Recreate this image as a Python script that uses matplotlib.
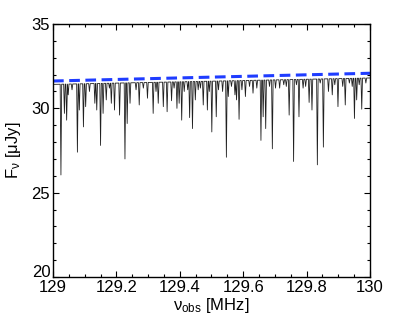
import numpy as np
import matplotlib
matplotlib.use("Agg")
import matplotlib.pyplot as plt
from matplotlib.ticker import MultipleLocator

plt.rcParams['font.family'] = ['Liberation Sans', 'DejaVu Sans']

# continuum (blue dashed) and spectrum baseline, end points
cont_freq = [129.0, 130.0]
cont_flux = [31.62, 32.08]
base_flux = [31.42, 31.80]

# absorption dips: centre frequency [MHz], minimum flux [uJy]
dip_freq = [129.025, 129.036, 129.043, 129.048, 129.077, 129.083, 129.096, 129.103,
            129.132, 129.138, 129.150, 129.158, 129.168, 129.184, 129.194, 129.210,
            129.227, 129.234, 129.243, 129.272, 129.298, 129.316, 129.332, 129.348,
            129.360, 129.374, 129.391, 129.398, 129.406, 129.414, 129.431, 129.440,
            129.449, 129.458, 129.474, 129.487, 129.501, 129.515, 129.535, 129.547,
            129.553, 129.574, 129.579, 129.587, 129.607, 129.631, 129.656, 129.663,
            129.671, 129.692, 129.715, 129.745, 129.759, 129.776, 129.789, 129.808,
            129.817, 129.834, 129.853, 129.869, 129.881, 129.899, 129.914, 129.922,
            129.951, 129.958, 129.974]
dip_flux = [26.05, 29.7, 29.3, 30.8, 27.4, 29.9, 28.9, 30.1,
            30.3, 29.9, 27.8, 29.7, 30.5, 30.3, 29.9, 29.6,
            27.0, 29.1, 30.3, 30.2, 30.6, 29.7, 30.3, 30.1,
            29.8, 30.45, 30.0, 30.3, 29.3, 31.0, 29.45, 28.8,
            30.5, 31.1, 30.2, 29.9, 28.6, 29.5, 31.0, 27.1,
            30.7, 30.8, 30.5, 29.35, 30.7, 30.9, 28.1, 29.5,
            28.8, 27.6, 31.2, 29.6, 26.85, 29.5, 31.2, 30.35,
            29.9, 26.65, 27.7, 31.0, 30.8, 30.1, 31.3, 30.2,
            29.4, 30.5, 29.95]

# small shallow dips along the baseline
small_freq = [129.060, 129.115, 129.178, 129.262, 129.285, 129.325, 129.382, 129.425,
              129.465, 129.493, 129.522, 129.563, 129.596, 129.620, 129.643, 129.683,
              129.702, 129.728, 129.736, 129.768, 129.797, 129.843, 129.889, 129.935,
              129.944, 129.966, 129.987]
small_flux = [31.1, 31.0, 31.2, 31.1, 31.2, 31.0, 31.2, 31.1,
              31.2, 31.0, 31.1, 31.3, 31.1, 31.3, 31.2, 31.3,
              31.2, 31.4, 31.3, 31.4, 31.3, 31.5, 31.4, 31.5,
              31.3, 31.4, 31.5]

fig = plt.figure(figsize=(4.09, 3.27), dpi=100)
ax = fig.add_axes([0.1296, 0.1529, 0.775, 0.7737])

# build the spectrum: baseline with narrow dips
all_f = np.array(dip_freq + small_freq)
all_v = np.array(dip_flux + small_flux)
order = np.argsort(all_f)
all_f, all_v = all_f[order], all_v[order]
hw = 0.0024
xs = [cont_freq[0]]
ys = [base_flux[0]]
for f, v in zip(all_f, all_v):
    for xx, yy in ((f - hw, None), (f, v), (f + hw, None)):
        xs.append(xx)
        ys.append(np.interp(xx, cont_freq, base_flux) if yy is None else yy)
xs.append(cont_freq[1])
ys.append(base_flux[1])

ax.plot(xs, ys, color='#202020', lw=0.6)
ax.plot(cont_freq, cont_flux, color='#1f3cff', lw=2.2, ls=(0, (3.5, 1.8)))

ax.set_xlim(129, 130)
ax.set_ylim(20, 35)
ax.xaxis.set_major_locator(MultipleLocator(0.2))
ax.xaxis.set_minor_locator(MultipleLocator(0.05))
ax.yaxis.set_major_locator(MultipleLocator(5))
ax.yaxis.set_minor_locator(MultipleLocator(1))
ax.xaxis.set_major_formatter(plt.FuncFormatter(lambda v, p: f"{v:g}"))
# the lowest y label (20) is drawn separately, raised above the corner
ax.yaxis.set_major_formatter(plt.FuncFormatter(lambda v, p: '' if v <= 20 else f"{v:g}"))
ax.tick_params(which='both', direction='in', top=True, right=True, labelsize=12, width=0.8)
ax.tick_params(which='major', length=4, pad=2)
ax.tick_params(which='minor', length=2)
for s in ax.spines.values():
    s.set_linewidth(1.0)

ax.text(-0.008, -0.012, '20', transform=ax.transAxes, ha='right', va='bottom', fontsize=12)

ax.set_xlabel(r'$\mathregular{\nu_{obs}}$ [MHz]', fontsize=12, labelpad=1)
ax.set_ylabel(r'$\mathregular{F_{\nu}}$ [$\mathregular{\mu}$Jy]', fontsize=12, labelpad=6)

fig.savefig('out.png', dpi=100)
